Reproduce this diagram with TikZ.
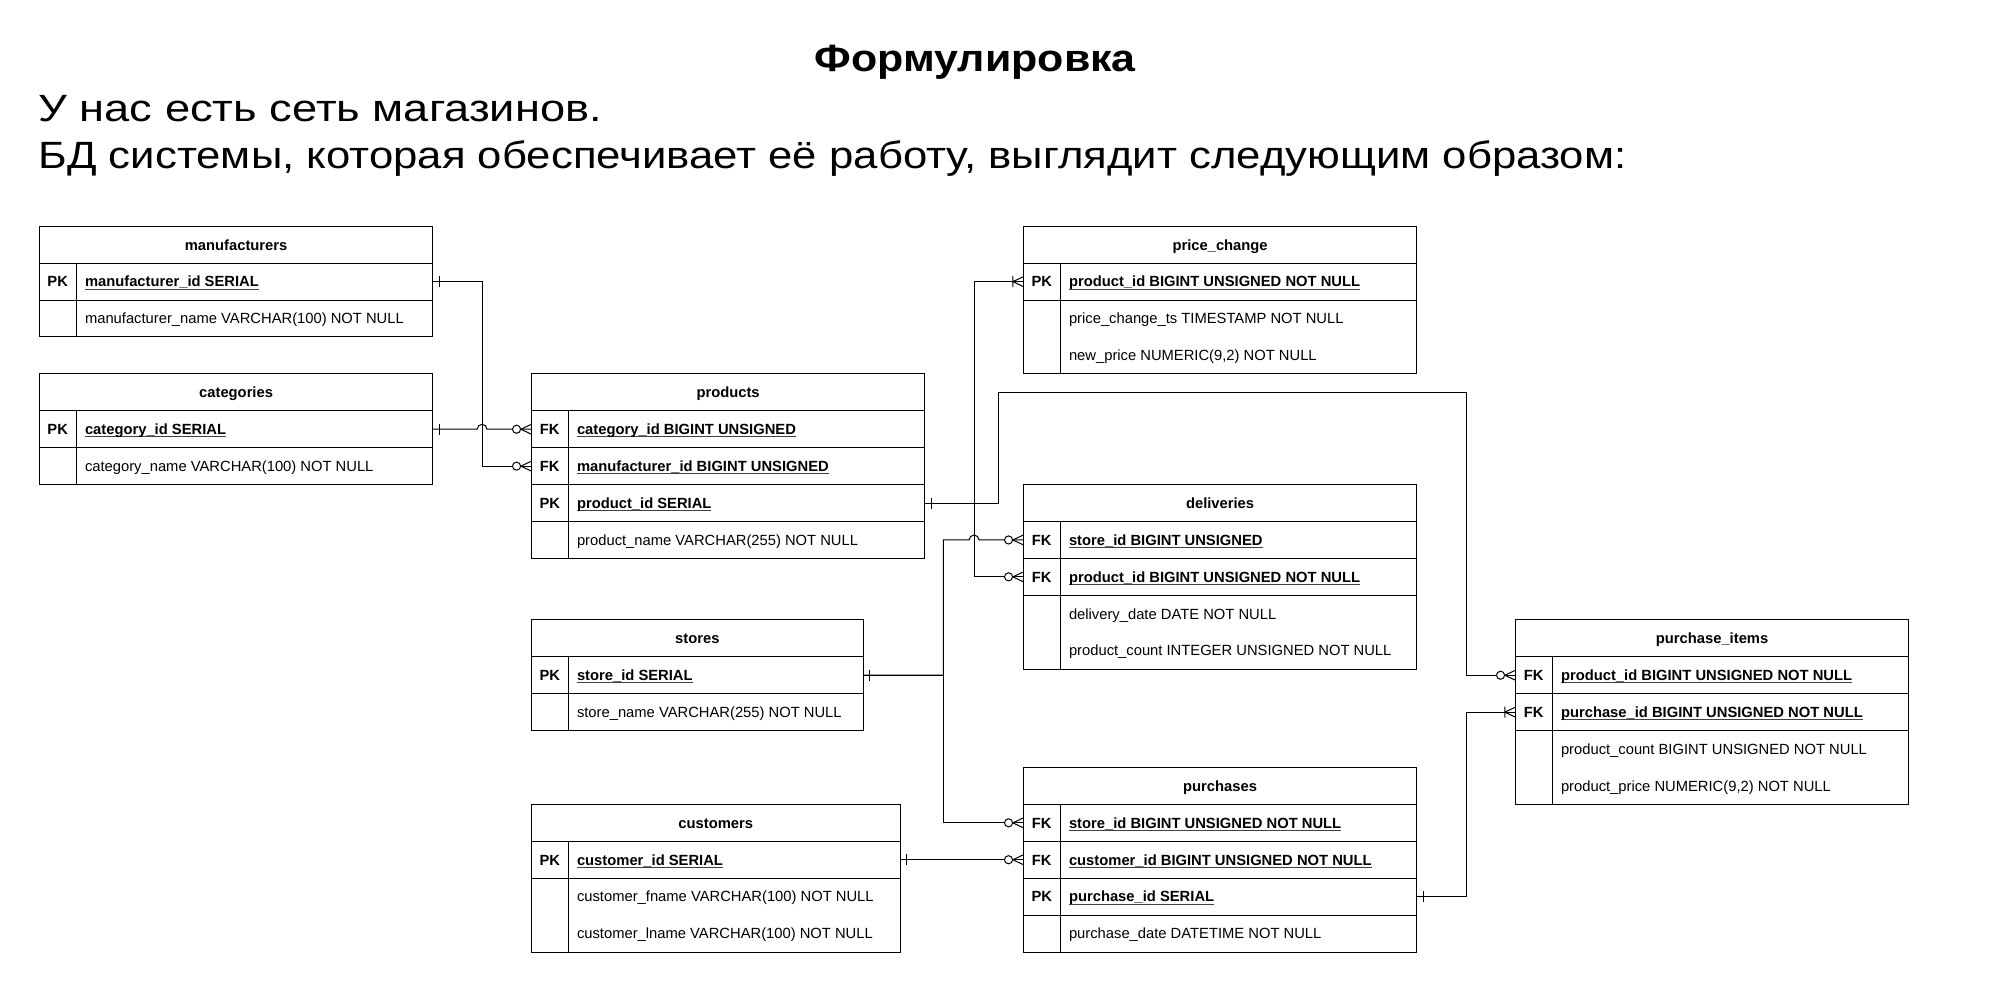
\documentclass[tikz,border=0pt]{standalone}
\usepackage{graphicx}
\usepackage{fontspec}
\setmainfont{Liberation Sans}
\usetikzlibrary{calc}

% fonts of the table cells and of the heading
\newcommand\tfont{\fontsize{14.76pt}{17pt}\selectfont}
\newcommand\hfont{\fontsize{38pt}{44pt}\selectfont}

% underlined key column name
\newsavebox\ulbox
\newcommand\ulx[1]{\sbox\ulbox{#1}\rlap{\color{black!75}\rule[-2.6pt]{\wd\ulbox}{0.9pt}}\usebox\ulbox}

\tikzset{
  box/.style={draw=black, line width=1pt, inner sep=0pt, outer sep=0pt,
    anchor=north west, minimum height=36.9pt},
  hdr/.style={box, font=\tfont\bfseries, text height=10.57pt, text depth=0pt},
  cellk/.style={box, minimum width=36.9pt, font=\tfont\bfseries,
    text height=10.57pt, text depth=0pt},
  cellf/.style={box},
  fld/.style={anchor=west, inner sep=0pt, font=\tfont,
    text height=10.57pt, text depth=0pt},
  keyfld/.style={fld, font=\tfont\bfseries},
  conn/.style={draw=black, line width=1pt},
  pics/zmany/.style={code={
    \draw[conn] (-8.5,0) -- (0,-4) (-8.5,0) -- (0,4);
    \draw[conn, fill=white] (-12,0) circle[radius=3.3];}},
  pics/omany/.style={code={
    \draw[conn] (-8.5,0) -- (0,-4) (-8.5,0) -- (0,4) (-8.5,-4.5) -- (-8.5,4.5);}},
  pics/one/.style={code={\draw[conn] (5,-4.5) -- (5,4.5);}},
}

% table pieces: name, x, y (top), width, ...
\newcommand\erhead[5]{\node[hdr, minimum width=#4*1.23pt] (#1) at (#2,#3) {#5};}
\newcommand\erkey[6]{%
  \node[cellk] (#1-k) at (#2,#3) {#5};
  \node[cellf, minimum width=(#4-30)*1.23pt] (#1) at (#2+30,#3) {};
  \node[keyfld] (#1-t) at (#2+37,#3+15) {\ulx{#6}};}
\newcommand\erattr[5]{%
  \node[cellk] (#1-k) at (#2,#3) {};
  \node[cellf, minimum width=(#4-30)*1.23pt] (#1) at (#2+30,#3) {};
  \node[fld] (#1-t) at (#2+37,#3+15) {#5};}
\newcommand\erattrii[6]{%
  \node[cellk, minimum height=73.8pt] (#1-k) at (#2,#3) {};
  \node[cellf, minimum height=73.8pt, minimum width=(#4-30)*1.23pt] (#1) at (#2+30,#3) {};
  \node[fld] (#1-t1) at (#2+37,#3+15) {#5};
  \node[fld] (#1-t2) at (#2+37,#3+45) {#6};}

\begin{document}
\begin{tikzpicture}[x=1.23pt, y=-1.23pt]
\useasboundingbox (-31.95,-183.98) rectangle (1602.2,632.3);
\fill[white] (-31.95,-183.98) rectangle (1602.2,632.3);

% heading
\node[font=\hfont\bfseries, anchor=base, inner sep=0pt] (title) at (761,-125.7)
  {\scalebox{1.13}[1]{Формулировка}};
\node[font=\hfont, anchor=base west, inner sep=0pt] (line1) at (-0.7,-85)
  {\scalebox{1.19}[1]{У нас есть сеть магазинов.}};
\node[font=\hfont, anchor=base west, inner sep=0pt] (line2) at (-0.7,-47.2)
  {\scalebox{1.15}[1]{БД системы, которая обеспечивает её работу, выглядит следующим образом:}};

% manufacturers
\erhead{m}{0}{0}{320}{manufacturers}
\erkey{m-pk}{0}{30}{320}{PK}{manufacturer\_id SERIAL}
\erattr{m-a}{0}{60}{320}{manufacturer\_name VARCHAR(100) NOT NULL}

% categories
\erhead{c}{0}{120}{320}{categories}
\erkey{c-pk}{0}{150}{320}{PK}{category\_id SERIAL}
\erattr{c-a}{0}{180}{320}{category\_name VARCHAR(100) NOT NULL}

% products
\erhead{p}{400}{120}{320}{products}
\erkey{p-fk1}{400}{150}{320}{FK}{category\_id BIGINT UNSIGNED}
\erkey{p-fk2}{400}{180}{320}{FK}{manufacturer\_id BIGINT UNSIGNED}
\erkey{p-pk}{400}{210}{320}{PK}{product\_id SERIAL}
\erattr{p-a}{400}{240}{320}{product\_name VARCHAR(255) NOT NULL}

% price_change
\erhead{pc}{800}{0}{320}{price\_change}
\erkey{pc-pk}{800}{30}{320}{PK}{product\_id BIGINT UNSIGNED NOT NULL}
\erattrii{pc-a}{800}{60}{320}{price\_change\_ts TIMESTAMP NOT NULL}{new\_price NUMERIC(9,2) NOT NULL}

% deliveries
\erhead{d}{800}{210}{320}{deliveries}
\erkey{d-fk1}{800}{240}{320}{FK}{store\_id BIGINT UNSIGNED}
\erkey{d-fk2}{800}{270}{320}{FK}{product\_id BIGINT UNSIGNED NOT NULL}
\erattrii{d-a}{800}{300}{320}{delivery\_date DATE NOT NULL}{product\_count INTEGER UNSIGNED NOT NULL}

% stores
\erhead{s}{400}{320}{270}{stores}
\erkey{s-pk}{400}{350}{270}{PK}{store\_id SERIAL}
\erattr{s-a}{400}{380}{270}{store\_name VARCHAR(255) NOT NULL}

% customers
\erhead{cu}{400}{470}{300}{customers}
\erkey{cu-pk}{400}{500}{300}{PK}{customer\_id SERIAL}
\erattrii{cu-a}{400}{530}{300}{customer\_fname VARCHAR(100) NOT NULL}{customer\_lname VARCHAR(100) NOT NULL}

% purchases
\erhead{pu}{800}{440}{320}{purchases}
\erkey{pu-fk1}{800}{470}{320}{FK}{store\_id BIGINT UNSIGNED NOT NULL}
\erkey{pu-fk2}{800}{500}{320}{FK}{customer\_id BIGINT UNSIGNED NOT NULL}
\erkey{pu-pk}{800}{530}{320}{PK}{purchase\_id SERIAL}
\erattr{pu-a}{800}{560}{320}{purchase\_date DATETIME NOT NULL}

% purchase_items
\erhead{pi}{1200}{320}{320}{purchase\_items}
\erkey{pi-fk1}{1200}{350}{320}{FK}{product\_id BIGINT UNSIGNED NOT NULL}
\erkey{pi-fk2}{1200}{380}{320}{FK}{purchase\_id BIGINT UNSIGNED NOT NULL}
\erattrii{pi-a}{1200}{410}{320}{product\_count BIGINT UNSIGNED NOT NULL}{product\_price NUMERIC(9,2) NOT NULL}

% relationships
\coordinate (bend) at (1160,135);
\draw[conn] (m-pk.east) -- ++(40,0) |- (p-fk2-k.west);
\draw[conn] (c-pk.east) -- ++(36,0) arc[start angle=180, end angle=360, radius=4] -- (p-fk1-k.west);
\draw[conn] (p-pk.east) -- ++(40,0) |- (pc-pk-k.west);
\draw[conn] (p-pk.east) -- ++(40,0) |- (d-fk2-k.west);
\draw[conn] (p-pk.east) -- ++(60,0) |- (bend) |- (pi-fk1-k.west);
\draw[conn] (s-pk.east) -- ++(65,0) |- ($(d-fk1-k.west)+(-44,0)$)
  arc[start angle=180, end angle=360, radius=4] -- (d-fk1-k.west);
\draw[conn] (s-pk.east) -- ++(65,0) |- (pu-fk1-k.west);
\draw[conn] (cu-pk.east) -- (pu-fk2-k.west);
\draw[conn] (pu-pk.east) -- ++(40,0) |- (pi-fk2-k.west);

% relationship ends
\pic at (m-pk.east) {one};
\pic at (c-pk.east) {one};
\pic at (p-pk.east) {one};
\pic at (s-pk.east) {one};
\pic at (cu-pk.east) {one};
\pic at (pu-pk.east) {one};
\pic at (p-fk1-k.west) {zmany};
\pic at (p-fk2-k.west) {zmany};
\pic at (d-fk1-k.west) {zmany};
\pic at (d-fk2-k.west) {zmany};
\pic at (pu-fk1-k.west) {zmany};
\pic at (pu-fk2-k.west) {zmany};
\pic at (pi-fk1-k.west) {zmany};
\pic at (pc-pk-k.west) {omany};
\pic at (pi-fk2-k.west) {omany};
\end{tikzpicture}
\end{document}
